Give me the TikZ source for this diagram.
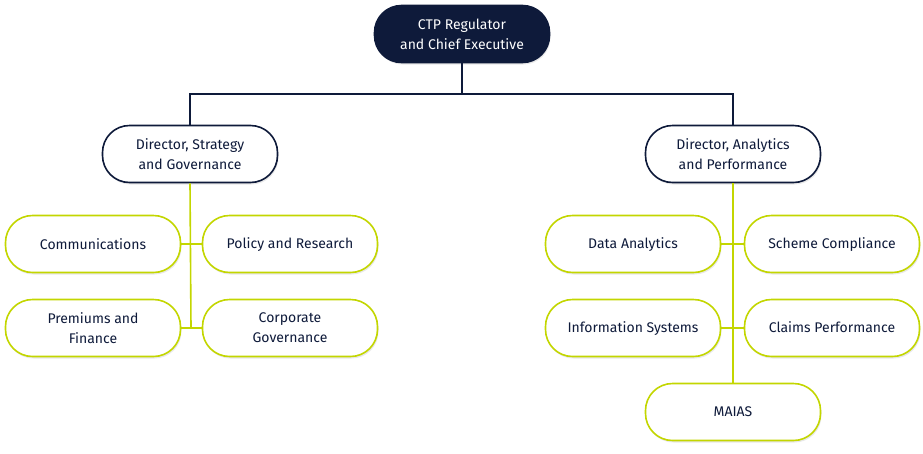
\documentclass[tikz,border=0pt]{standalone}
\usepackage{fontspec}
\setmainfont{Fira Sans}
\usetikzlibrary{positioning,shadows}
\definecolor{navy}{HTML}{0E1A3A}
\definecolor{lime}{HTML}{C3D600}
\tikzset{
  box/.style={draw=lime, line width=1.6pt, fill=white, rounded corners=27pt,
    minimum width=175pt, minimum height=57pt, align=center, text=navy,
    font=\fontsize{14}{20}\selectfont,
    drop shadow={shadow xshift=1pt, shadow yshift=-2pt, opacity=.18}},
  dir/.style={box, draw=navy},
  head/.style={box, draw=navy, fill=navy, text=white},
  tie/.style={draw=navy, line width=1.2pt},
  leaf/.style={draw=lime, line width=1.6pt}
}
\begin{document}
\begin{tikzpicture}[x=1pt,y=-1pt]
\useasboundingbox (0,0) rectangle (923,453);
\node[head] (ceo) at (462,34) {CTP Regulator\\and Chief Executive};
\node[dir] (dsg) at (190,154) {Director, Strategy\\and Governance};
\node[dir] (dap) at (733,154) {Director, Analytics\\and Performance};
\coordinate (j) at (462,94);
\draw[tie] (ceo.south) -- (j) -| (dsg.north);
\draw[tie] (j) -| (dap.north);
% strategy and governance
\coordinate (s2) at (191,328);
\draw[leaf] (dsg.south) -- (s2);
\node[box] (comm) at (93,244) {Communications};
\node[box] (pol) at (290,244) {Policy and Research\strut};
\node[box] (prem) at (93,328) {Premiums and\\Finance};
\node[box] (corp) at (290,328) {Corporate\\Governance};
\draw[leaf] (comm.east) -- (pol.west);
\draw[leaf] (prem.east) -- (corp.west);
% analytics and performance
\node[box] (maias) at (733,412) {MAIAS};
\draw[leaf] (dap.south) -- (maias.north);
\node[box] (data) at (633,244) {Data Analytics\strut};
\node[box] (scheme) at (832,244) {Scheme Compliance\strut};
\node[box] (info) at (633,328) {Information Systems\strut};
\node[box] (claims) at (832,328) {Claims Performance\strut};
\draw[leaf] (data.east) -- (scheme.west);
\draw[leaf] (info.east) -- (claims.west);
\end{tikzpicture}
\end{document}
